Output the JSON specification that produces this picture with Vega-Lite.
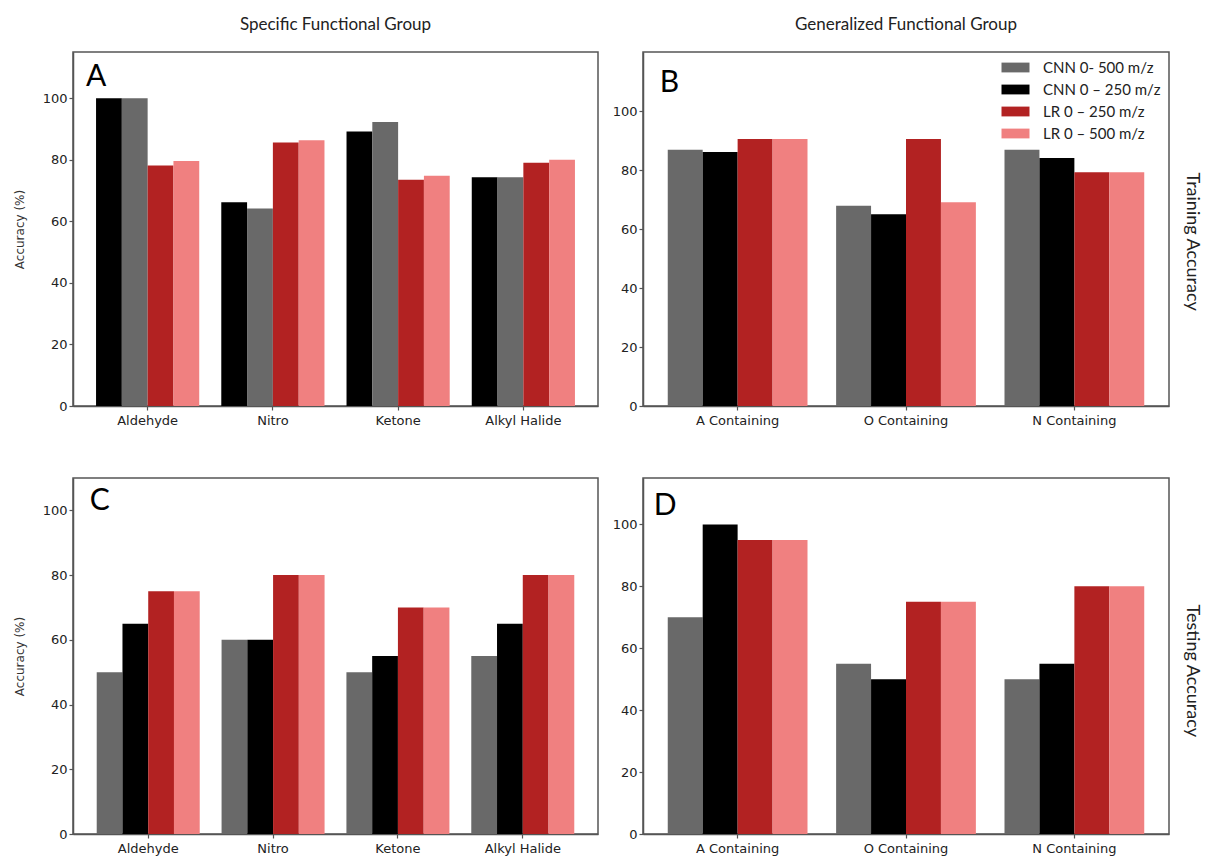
{
  "$schema": "https://vega.github.io/schema/vega-lite/v6.json",
  "background": "white",
  "padding": {"left": 12, "top": 15, "right": 4, "bottom": 4},
  "bounds": "flush",
  "columns": 2,
  "spacing": {"row": 72, "column": 45},
  "config": {
    "view": {"stroke": "#555555", "strokeWidth": 1.5},
    "font": "DejaVu Sans",
    "axis": {
      "labelFont": "DejaVu Sans",
      "labelFontSize": 13,
      "labelColor": "#222222",
      "tickColor": "#555555",
      "tickSize": 4,
      "tickWidth": 1.2,
      "domainColor": "#555555",
      "domainWidth": 1.5,
      "grid": false,
      "titleFont": "DejaVu Sans",
      "titleFontSize": 12,
      "titleFontWeight": "normal",
      "titleColor": "#333333"
    },
    "title": {"font": "Lato", "fontSize": 17, "fontWeight": "normal", "color": "#222222", "offset": 18}
  },
  "resolve": {"scale": {"color": "independent", "x": "independent", "xOffset": "independent", "y": "independent"}, "legend": {"color": "independent"}},
  "concat": [
    {
      "title": {"text": "Specific Functional Group"},
      "width": 525,
      "height": 354,
      "layer": [
        {
          "data": {"values": [
            {"group": "Aldehyde", "model": "CNN 0 – 250 m/z", "acc": 100},
            {"group": "Aldehyde", "model": "CNN 0- 500 m/z", "acc": 100},
            {"group": "Aldehyde", "model": "LR 0 – 250 m/z", "acc": 78.1},
            {"group": "Aldehyde", "model": "LR 0 – 500 m/z", "acc": 79.6},
            {"group": "Nitro", "model": "CNN 0 – 250 m/z", "acc": 66.2},
            {"group": "Nitro", "model": "CNN 0- 500 m/z", "acc": 64.2},
            {"group": "Nitro", "model": "LR 0 – 250 m/z", "acc": 85.6},
            {"group": "Nitro", "model": "LR 0 – 500 m/z", "acc": 86.3},
            {"group": "Ketone", "model": "CNN 0 – 250 m/z", "acc": 89.2},
            {"group": "Ketone", "model": "CNN 0- 500 m/z", "acc": 92.3},
            {"group": "Ketone", "model": "LR 0 – 250 m/z", "acc": 73.5},
            {"group": "Ketone", "model": "LR 0 – 500 m/z", "acc": 74.8},
            {"group": "Alkyl Halide", "model": "CNN 0 – 250 m/z", "acc": 74.3},
            {"group": "Alkyl Halide", "model": "CNN 0- 500 m/z", "acc": 74.3},
            {"group": "Alkyl Halide", "model": "LR 0 – 250 m/z", "acc": 79.0},
            {"group": "Alkyl Halide", "model": "LR 0 – 500 m/z", "acc": 80.0}
          ]},
          "mark": {"type": "bar"},
          "encoding": {
            "x": {"field": "group", "type": "nominal", "sort": ["Aldehyde", "Nitro", "Ketone", "Alkyl Halide"], "scale": {"paddingInner": 0.176, "paddingOuter": 0.184}, "axis": {"title": null, "labelAngle": 0, "labelPadding": 4}},
            "xOffset": {"field": "model", "type": "nominal", "scale": {"domain": ["CNN 0 – 250 m/z", "CNN 0- 500 m/z", "LR 0 – 250 m/z", "LR 0 – 500 m/z"]}},
            "y": {"field": "acc", "type": "quantitative", "scale": {"domain": [0, 115], "nice": false}, "axis": {"title": "Accuracy (%)", "values": [0, 20, 40, 60, 80, 100], "titlePadding": 16}},
            "color": {"field": "model", "type": "nominal", "scale": {"domain": ["CNN 0- 500 m/z", "CNN 0 – 250 m/z", "LR 0 – 250 m/z", "LR 0 – 500 m/z"], "range": ["#696969", "#000000", "#b22222", "#f08080"]}, "legend": null}
          }
        },
        {
          "data": {"values": [{"panel": "A"}]},
          "mark": {"type": "text", "font": "Lato", "fontSize": 30, "align": "left", "baseline": "alphabetic", "dx": -10, "color": "#000000"},
          "encoding": {"text": {"field": "panel"}, "x": {"datum": "Aldehyde", "bandPosition": 0}, "y": {"datum": 104}}
        }
      ]
    },
    {
      "title": {"text": "Generalized Functional Group"},
      "width": 526,
      "height": 354,
      "layer": [
        {
          "data": {"values": [
            {"group": "A Containing", "model": "CNN 0- 500 m/z", "acc": 86.9},
            {"group": "A Containing", "model": "CNN 0 – 250 m/z", "acc": 86.1},
            {"group": "A Containing", "model": "LR 0 – 250 m/z", "acc": 90.5},
            {"group": "A Containing", "model": "LR 0 – 500 m/z", "acc": 90.5},
            {"group": "O Containing", "model": "CNN 0- 500 m/z", "acc": 67.9},
            {"group": "O Containing", "model": "CNN 0 – 250 m/z", "acc": 65.0},
            {"group": "O Containing", "model": "LR 0 – 250 m/z", "acc": 90.5},
            {"group": "O Containing", "model": "LR 0 – 500 m/z", "acc": 69.1},
            {"group": "N Containing", "model": "CNN 0- 500 m/z", "acc": 86.9},
            {"group": "N Containing", "model": "CNN 0 – 250 m/z", "acc": 84.1},
            {"group": "N Containing", "model": "LR 0 – 250 m/z", "acc": 79.2},
            {"group": "N Containing", "model": "LR 0 – 500 m/z", "acc": 79.2}
          ]},
          "mark": {"type": "bar"},
          "encoding": {
            "x": {"field": "group", "type": "nominal", "sort": ["A Containing", "O Containing", "N Containing"], "scale": {"paddingInner": 0.17, "paddingOuter": 0.147}, "axis": {"title": null, "labelAngle": 0, "labelPadding": 4}},
            "xOffset": {"field": "model", "type": "nominal", "scale": {"domain": ["CNN 0- 500 m/z", "CNN 0 – 250 m/z", "LR 0 – 250 m/z", "LR 0 – 500 m/z"]}},
            "y": {"field": "acc", "type": "quantitative", "scale": {"domain": [0, 120], "nice": false}, "axis": {"title": null, "values": [0, 20, 40, 60, 80, 100]}},
            "color": {"field": "model", "type": "nominal", "scale": {"domain": ["CNN 0- 500 m/z", "CNN 0 – 250 m/z", "LR 0 – 250 m/z", "LR 0 – 500 m/z"], "range": ["#696969", "#000000", "#b22222", "#f08080"]},
              "legend": {"orient": "top-right", "title": null, "symbolType": "M-2,-0.7h4v1.4h-4z", "symbolSize": 196, "symbolStrokeWidth": 0, "symbolOpacity": 1, "labelFont": "Lato", "labelFontSize": 15, "labelColor": "#222222", "rowPadding": 6, "labelOffset": 20, "offset": 8, "padding": 0}}
          }
        },
        {
          "data": {"values": [{"panel": "B"}]},
          "mark": {"type": "text", "font": "Lato", "fontSize": 30, "align": "left", "baseline": "alphabetic", "dx": -8, "color": "#000000"},
          "encoding": {"text": {"field": "panel"}, "x": {"datum": "A Containing", "bandPosition": 0}, "y": {"datum": 106.4}}
        },
        {
          "data": {"values": [{"label": "Training Accuracy"}]},
          "mark": {"type": "text", "font": "Lato", "fontSize": 18, "angle": 90, "align": "center", "baseline": "middle", "dx": 0, "dy": -48, "color": "#222222"},
          "encoding": {"text": {"field": "label"}, "x": {"datum": "N Containing", "bandPosition": 1}, "y": {"datum": 55.7}}
        }
      ]
    },
    {
      "width": 525,
      "height": 356,
      "layer": [
        {
          "data": {"values": [
            {"group": "Aldehyde", "model": "CNN 0- 500 m/z", "acc": 50},
            {"group": "Aldehyde", "model": "CNN 0 – 250 m/z", "acc": 65},
            {"group": "Aldehyde", "model": "LR 0 – 250 m/z", "acc": 75},
            {"group": "Aldehyde", "model": "LR 0 – 500 m/z", "acc": 75},
            {"group": "Nitro", "model": "CNN 0- 500 m/z", "acc": 60},
            {"group": "Nitro", "model": "CNN 0 – 250 m/z", "acc": 60},
            {"group": "Nitro", "model": "LR 0 – 250 m/z", "acc": 80},
            {"group": "Nitro", "model": "LR 0 – 500 m/z", "acc": 80},
            {"group": "Ketone", "model": "CNN 0- 500 m/z", "acc": 50},
            {"group": "Ketone", "model": "CNN 0 – 250 m/z", "acc": 55},
            {"group": "Ketone", "model": "LR 0 – 250 m/z", "acc": 70},
            {"group": "Ketone", "model": "LR 0 – 500 m/z", "acc": 70},
            {"group": "Alkyl Halide", "model": "CNN 0- 500 m/z", "acc": 55},
            {"group": "Alkyl Halide", "model": "CNN 0 – 250 m/z", "acc": 65},
            {"group": "Alkyl Halide", "model": "LR 0 – 250 m/z", "acc": 80},
            {"group": "Alkyl Halide", "model": "LR 0 – 500 m/z", "acc": 80}
          ]},
          "mark": {"type": "bar"},
          "encoding": {
            "x": {"field": "group", "type": "nominal", "sort": ["Aldehyde", "Nitro", "Ketone", "Alkyl Halide"], "scale": {"paddingInner": 0.175, "paddingOuter": 0.19}, "axis": {"title": null, "labelAngle": 0, "labelPadding": 4}},
            "xOffset": {"field": "model", "type": "nominal", "scale": {"domain": ["CNN 0- 500 m/z", "CNN 0 – 250 m/z", "LR 0 – 250 m/z", "LR 0 – 500 m/z"]}},
            "y": {"field": "acc", "type": "quantitative", "scale": {"domain": [0, 110], "nice": false}, "axis": {"title": "Accuracy (%)", "values": [0, 20, 40, 60, 80, 100], "titlePadding": 16}},
            "color": {"field": "model", "type": "nominal", "scale": {"domain": ["CNN 0- 500 m/z", "CNN 0 – 250 m/z", "LR 0 – 250 m/z", "LR 0 – 500 m/z"], "range": ["#696969", "#000000", "#b22222", "#f08080"]}, "legend": null}
          }
        },
        {
          "data": {"values": [{"panel": "C"}]},
          "mark": {"type": "text", "font": "Lato", "fontSize": 30, "align": "left", "baseline": "alphabetic", "dx": -7, "color": "#000000"},
          "encoding": {"text": {"field": "panel"}, "x": {"datum": "Aldehyde", "bandPosition": 0}, "y": {"datum": 100}}
        }
      ]
    },
    {
      "width": 526,
      "height": 356,
      "layer": [
        {
          "data": {"values": [
            {"group": "A Containing", "model": "CNN 0- 500 m/z", "acc": 70},
            {"group": "A Containing", "model": "CNN 0 – 250 m/z", "acc": 100},
            {"group": "A Containing", "model": "LR 0 – 250 m/z", "acc": 95},
            {"group": "A Containing", "model": "LR 0 – 500 m/z", "acc": 95},
            {"group": "O Containing", "model": "CNN 0- 500 m/z", "acc": 55},
            {"group": "O Containing", "model": "CNN 0 – 250 m/z", "acc": 50},
            {"group": "O Containing", "model": "LR 0 – 250 m/z", "acc": 75},
            {"group": "O Containing", "model": "LR 0 – 500 m/z", "acc": 75},
            {"group": "N Containing", "model": "CNN 0- 500 m/z", "acc": 50},
            {"group": "N Containing", "model": "CNN 0 – 250 m/z", "acc": 55},
            {"group": "N Containing", "model": "LR 0 – 250 m/z", "acc": 80},
            {"group": "N Containing", "model": "LR 0 – 500 m/z", "acc": 80}
          ]},
          "mark": {"type": "bar"},
          "encoding": {
            "x": {"field": "group", "type": "nominal", "sort": ["A Containing", "O Containing", "N Containing"], "scale": {"paddingInner": 0.17, "paddingOuter": 0.147}, "axis": {"title": null, "labelAngle": 0, "labelPadding": 4}},
            "xOffset": {"field": "model", "type": "nominal", "scale": {"domain": ["CNN 0- 500 m/z", "CNN 0 – 250 m/z", "LR 0 – 250 m/z", "LR 0 – 500 m/z"]}},
            "y": {"field": "acc", "type": "quantitative", "scale": {"domain": [0, 115], "nice": false}, "axis": {"title": null, "values": [0, 20, 40, 60, 80, 100]}},
            "color": {"field": "model", "type": "nominal", "scale": {"domain": ["CNN 0- 500 m/z", "CNN 0 – 250 m/z", "LR 0 – 250 m/z", "LR 0 – 500 m/z"], "range": ["#696969", "#000000", "#b22222", "#f08080"]}, "legend": null}
          }
        },
        {
          "data": {"values": [{"panel": "D"}]},
          "mark": {"type": "text", "font": "Lato", "fontSize": 30, "align": "left", "baseline": "alphabetic", "dx": -14, "color": "#000000"},
          "encoding": {"text": {"field": "panel"}, "x": {"datum": "A Containing", "bandPosition": 0}, "y": {"datum": 103}}
        },
        {
          "data": {"values": [{"label": "Testing Accuracy"}]},
          "mark": {"type": "text", "font": "Lato", "fontSize": 18, "angle": 90, "align": "center", "baseline": "middle", "dx": 0, "dy": -48, "color": "#222222"},
          "encoding": {"text": {"field": "label"}, "x": {"datum": "N Containing", "bandPosition": 1}, "y": {"datum": 52.7}}
        }
      ]
    }
  ]
}
